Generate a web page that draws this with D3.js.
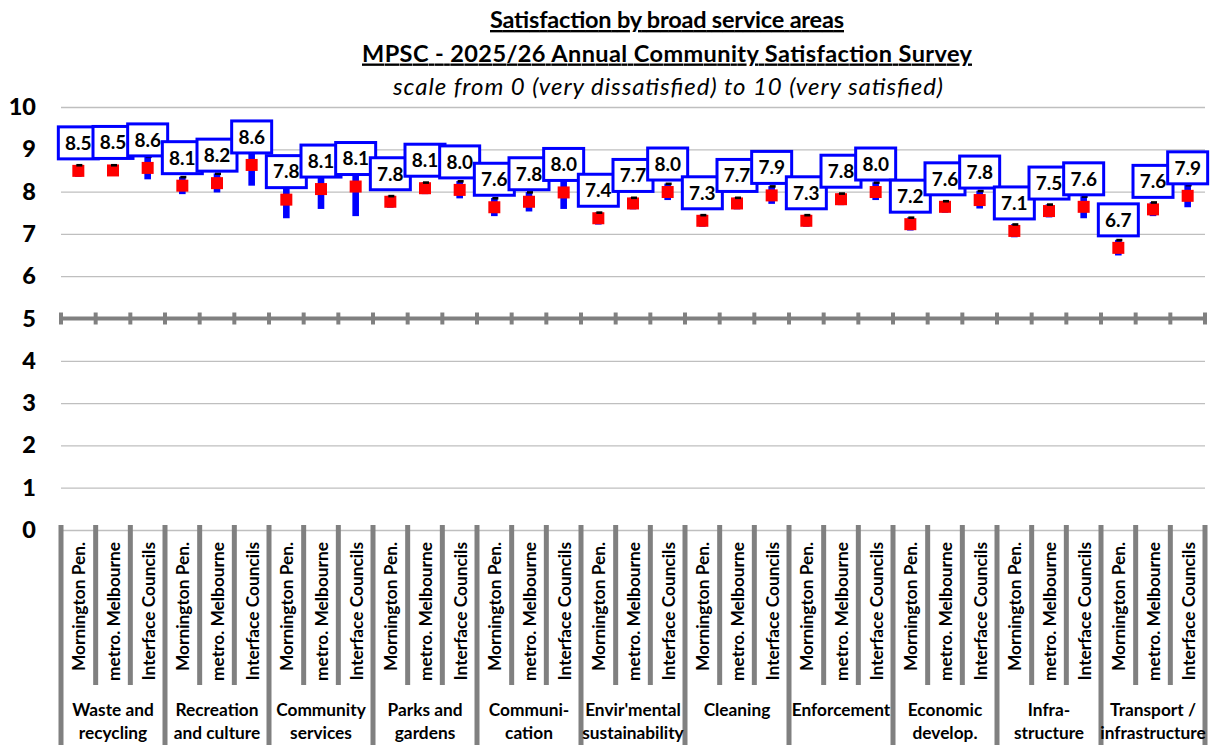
<!DOCTYPE html>
<html>
<head>
<meta charset="utf-8">
<script src="https://cdn.jsdelivr.net/npm/d3@7"></script>
<style>
  html, body { margin: 0; padding: 0; background: #fff; }
  svg { display: block; font-family: Lato, "Open Sans", sans-serif; }
</style>
</head>
<body>
<svg id="chart" width="1210" height="745"></svg>
<script>
// ---------------- DATA ----------------
const groupLines = [
  ["Waste and", "recycling"],
  ["Recreation", "and culture"],
  ["Community", "services"],
  ["Parks and", "gardens"],
  ["Communi-", "cation"],
  ["Envir'mental", "sustainability"],
  ["Cleaning"],
  ["Enforcement"],
  ["Economic", "develop."],
  ["Infra-", "structure"],
  ["Transport /", "infrastructure"]
];
const seriesNames = ["Mornington Pen.", "metro. Melbourne", "Interface Councils"];

const morningtonMean = [8.49, 8.14, 7.81, 7.76, 7.63, 7.37, 7.31, 7.31, 7.23, 7.07, 6.67];
const morningtonLow  = [8.35, 7.94, 7.37, 7.62, 7.42, 7.22, 7.17, 7.17, 7.08, 6.92, 6.49];
const morningtonHigh = [8.63, 8.35, 8.25, 7.90, 7.85, 7.51, 7.45, 7.45, 7.39, 7.23, 6.86];

const metroMean = [8.50, 8.20, 8.06, 8.08, 7.76, 7.72, 7.72, 7.82, 7.64, 7.54, 7.58];
const metroLow  = [8.37, 7.98, 7.59, 7.94, 7.53, 7.58, 7.58, 7.68, 7.50, 7.39, 7.42];
const metroHigh = [8.63, 8.43, 8.53, 8.22, 7.99, 7.86, 7.86, 7.96, 7.78, 7.70, 7.75];

const interfaceMean = [8.56, 8.63, 8.12, 8.04, 7.98, 7.99, 7.91, 7.99, 7.80, 7.64, 7.90];
const interfaceLow  = [8.29, 8.14, 7.42, 7.84, 7.59, 7.80, 7.71, 7.80, 7.60, 7.37, 7.63];
const interfaceHigh = [8.83, 9.12, 8.82, 8.25, 8.37, 8.19, 8.13, 8.22, 8.02, 7.89, 8.16];

const yTicks = [0, 1, 2, 3, 4, 5, 6, 7, 8, 9, 10];
const titleLines = [
  "Satisfaction by broad service areas",
  "MPSC - 2025/26 Annual Community Satisfaction Survey"
];
const subtitle = "scale from 0 (very dissatisfied) to 10 (very satisfied)";

// ---------------- BUILD ----------------
const means = [morningtonMean, metroMean, interfaceMean];
const lows = [morningtonLow, metroLow, interfaceLow];
const highs = [morningtonHigh, metroHigh, interfaceHigh];
const points = [];
groupLines.forEach((g, gi) => {
  seriesNames.forEach((s, si) => {
    points.push({ key: gi + "-" + si, group: gi, series: si, name: s,
      mean: means[si][gi], low: lows[si][gi], high: highs[si][gi] });
  });
});

const svg = d3.select("#chart");
const plotLeft = 61, plotRight = 1205, plotTop = 107, plotBottom = 530;

const x = d3.scaleBand().domain(points.map(p => p.key)).range([plotLeft, plotRight]).padding(0);
const y = d3.scaleLinear().domain([0, 10]).range([plotBottom, plotTop]);
const xb = d3.scaleLinear().domain([0, points.length]).range([plotLeft, plotRight]); // slot boundaries

// titles
const tg = svg.append("g").attr("text-anchor", "middle").attr("fill", "#000");
const titleWidths = [354, 610];
titleLines.forEach((t, i) => {
  tg.append("text").attr("x", 667).attr("y", 28 + i * 33.5)
    .attr("font-size", 23.5).attr("font-weight", "bold")
    .attr("textLength", titleWidths[i]).attr("lengthAdjust", "spacing")
    .style("text-decoration", "underline").text(t);
});
tg.append("text").attr("x", 668).attr("y", 95)
  .attr("font-size", 24).attr("font-style", "italic")
  .attr("textLength", 550).attr("lengthAdjust", "spacing").text(subtitle);

// gridlines + y axis
const yAxis = d3.axisLeft(y).tickValues(yTicks).tickSize(-(plotRight - plotLeft)).tickFormat(d3.format("d"));
const ya = svg.append("g").attr("transform", `translate(${plotLeft},0)`).call(yAxis);
ya.select(".domain").remove();
ya.selectAll(".tick line").attr("stroke", "#bfbfbf").attr("stroke-width", 1.3);
ya.selectAll(".tick text").attr("x", -25).attr("font-size", 23.5).attr("font-weight", "900")
  .attr("fill", "#000").attr("font-family", "Lato, sans-serif");

// category axis line at 5
const axG = svg.append("g");
axG.append("line").attr("x1", plotLeft).attr("x2", plotRight).attr("y1", y(5)).attr("y2", y(5))
  .attr("stroke", "#808080").attr("stroke-width", 4);
axG.selectAll("line.tk").data(d3.range(points.length + 1)).join("line").attr("class", "tk")
  .attr("x1", d => xb(d)).attr("x2", d => xb(d))
  .attr("y1", y(5) - 6).attr("y2", y(5) + 6)
  .attr("stroke", "#808080").attr("stroke-width", 4);

// bottom dividers
const divG = svg.append("g");
divG.selectAll("line").data(d3.range(points.length + 1)).join("line")
  .attr("x1", d => xb(d)).attr("x2", d => xb(d))
  .attr("y1", plotBottom - 5)
  .attr("y2", d => (d % 3 === 0) ? 745 : 685)
  .attr("stroke", "#808080").attr("stroke-width", 5);

// rotated series labels
svg.append("g").selectAll("text").data(points).join("text")
  .attr("transform", d => `translate(${x(d.key) + x.bandwidth() / 2 + 1},542) rotate(-90)`)
  .attr("text-anchor", "end").attr("dy", "0.35em")
  .attr("font-size", 17.3).attr("font-weight", "bold").attr("fill", "#000")
  .text(d => d.name);

// group labels
const gl = svg.append("g").attr("text-anchor", "middle");
groupLines.forEach((lines, gi) => {
  const cx = (xb(gi * 3) + xb(gi * 3 + 3)) / 2;
  lines.forEach((ln, li) => {
    gl.append("text").attr("x", cx).attr("y", 716 + li * 23)
      .attr("font-size", 17.3).attr("font-weight", "bold").attr("fill", "#000").text(ln);
  });
});

// marks
const cxOf = d => x(d.key) + x.bandwidth() / 2;
const mk = svg.append("g");
mk.selectAll("rect.rng").data(points).join("rect").attr("class", "rng")
  .attr("x", d => cxOf(d) - 3.3).attr("width", 6.6)
  .attr("y", d => y(d.high)).attr("height", d => y(d.low) - y(d.high))
  .attr("fill", "#0000ff");
mk.selectAll("rect.pt").data(points).join("rect").attr("class", "pt")
  .attr("x", d => cxOf(d) - 6).attr("width", 12)
  .attr("y", d => y(d.mean) - 6).attr("height", 12)
  .attr("fill", "#ff0000");
mk.selectAll("rect.hi").data(points).join("rect").attr("class", "hi")
  .attr("x", d => cxOf(d) - 2).attr("width", 6)
  .attr("y", d => y(d.high) - 1).attr("height", 2.6)
  .attr("fill", "#000");

// data labels
const lb = svg.append("g");
const boxW = 40, boxH = 32, gap = 12;
const lg = lb.selectAll("g").data(points).join("g")
  .attr("transform", d => `translate(${cxOf(d)},${y(d.mean) - gap - boxH / 2})`);
lg.append("rect").attr("x", -boxW / 2).attr("y", -boxH / 2).attr("width", boxW).attr("height", boxH)
  .attr("fill", "#fff").attr("stroke", "#0000ff").attr("stroke-width", 3);
lg.append("text").attr("text-anchor", "middle").attr("dy", "0.36em")
  .attr("font-size", 19).attr("font-weight", "bold").attr("fill", "#000")
  .text(d => d3.format(".1f")(d.mean));
</script>
</body>
</html>
